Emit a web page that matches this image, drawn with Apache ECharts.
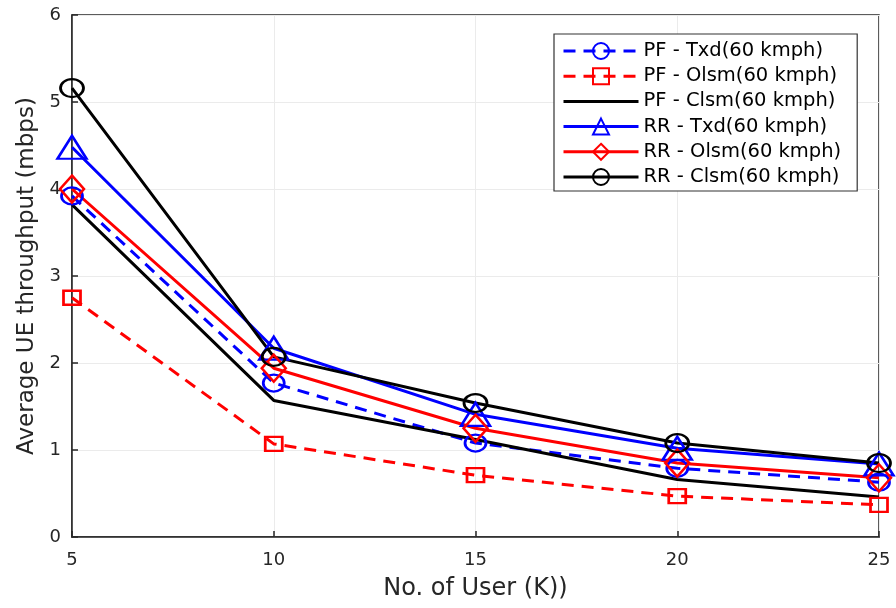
<!DOCTYPE html>
<html>
<head>
<meta charset="utf-8">
<style>
  html, body { margin: 0; padding: 0; background: #fff; }
  #chart { width: 896px; height: 608px; }
</style>
<script src="https://cdn.jsdelivr.net/npm/echarts@6/dist/echarts.min.js"></script>
</head>
<body>
<div id="chart"></div>
<script>
// Number of users (K)
const users = [5, 10, 15, 20, 25];

// Average UE throughput (mbps) per scheduler / transmission mode
const pfTxd  = [3.92, 1.77, 1.08, 0.79, 0.63];
const pfOlsm = [2.75, 1.07, 0.71, 0.47, 0.37];
const pfClsm = [3.82, 1.57, 1.12, 0.66, 0.46];
const rrTxd  = [4.48, 2.17, 1.41, 1.02, 0.84];
const rrOlsm = [4.00, 1.94, 1.25, 0.85, 0.68];
const rrClsm = [5.16, 2.07, 1.54, 1.08, 0.85];

const seriesNames = [
  'PF - Txd(60 kmph)',
  'PF - Olsm(60 kmph)',
  'PF - Clsm(60 kmph)',
  'RR - Txd(60 kmph)',
  'RR - Olsm(60 kmph)',
  'RR - Clsm(60 kmph)'
];

const FONT = 'DejaVu Sans';
const TEXT = '#262626';

function pairs(values) {
  return users.map((u, i) => [u, values[i]]);
}

function lineSeries(name, values, color, dashed, symbol, size) {
  const hasMarker = symbol !== 'none';
  return {
    name: name,
    type: 'line',
    data: pairs(values),
    color: color,
    symbol: hasMarker ? symbol : 'circle',
    symbolSize: size,
    showSymbol: hasMarker,
    lineStyle: { color: color, width: 3, type: dashed ? [12, 8] : 'solid' },
    itemStyle: {
      color: 'rgba(0,0,0,0)',
      borderColor: hasMarker ? color : 'rgba(0,0,0,0)',
      borderWidth: hasMarker ? 2.5 : 0
    },
    emphasis: { disabled: true },
    animation: false,
    z: 3
  };
}

const chart = echarts.init(document.getElementById('chart'), null, { renderer: 'canvas' });

chart.setOption({
  backgroundColor: '#ffffff',
  textStyle: { fontFamily: FONT },
  grid: {
    left: 72, right: 17, top: 15, bottom: 71,
    show: true, borderColor: TEXT, borderWidth: 1.5, backgroundColor: 'transparent'
  },
  legend: {
    orient: 'vertical',
    left: 554, top: 34,
    padding: [7, 16, 4, 8],
    itemWidth: 75, itemHeight: 20, itemGap: 5.2, itemTextGap: 6,
    backgroundColor: '#ffffff',
    borderColor: '#333333', borderWidth: 1.2, borderRadius: 0,
    textStyle: { fontFamily: FONT, fontSize: 19.5, color: '#000000' },
    lineStyle: { width: 3 },
    data: seriesNames,
    selectedMode: false
  },
  xAxis: {
    type: 'value',
    min: 5, max: 25, interval: 5,
    name: 'No. of User (K))',
    nameLocation: 'middle', nameGap: 40,
    nameTextStyle: { fontFamily: FONT, fontSize: 24, color: TEXT },
    axisLine: { show: true, lineStyle: { color: TEXT, width: 1.5 } },
    axisTick: { show: true, inside: true, length: 6, lineStyle: { color: TEXT, width: 1.5 } },
    axisLabel: { fontFamily: FONT, fontSize: 18, color: TEXT, margin: 14 },
    splitLine: { show: true, lineStyle: { color: '#ebebeb', width: 1 } }
  },
  yAxis: {
    type: 'value',
    min: 0, max: 6, interval: 1,
    name: 'Average UE throughput (mbps)',
    nameLocation: 'middle', nameGap: 33,
    nameTextStyle: { fontFamily: FONT, fontSize: 23, color: TEXT },
    axisLine: { show: true, lineStyle: { color: TEXT, width: 1.5 } },
    axisTick: { show: true, inside: true, length: 6, lineStyle: { color: TEXT, width: 1.5 } },
    axisLabel: { fontFamily: FONT, fontSize: 18, color: TEXT, margin: 11 },
    splitLine: { show: true, lineStyle: { color: '#ebebeb', width: 1 } }
  },
  series: [
    lineSeries(seriesNames[0], pfTxd,  '#0000ff', true,  'circle',   [21, 17]),
    lineSeries(seriesNames[1], pfOlsm, '#ff0000', true,  'rect',     [17, 14]),
    lineSeries(seriesNames[2], pfClsm, '#000000', false, 'none',     0),
    lineSeries(seriesNames[3], rrTxd,  '#0000ff', false, 'triangle', [29, 23]),
    lineSeries(seriesNames[4], rrOlsm, '#ff0000', false, 'diamond',  [24, 27]),
    lineSeries(seriesNames[5], rrClsm, '#000000', false, 'circle',   [23, 18])
  ]
});
</script>
</body>
</html>
